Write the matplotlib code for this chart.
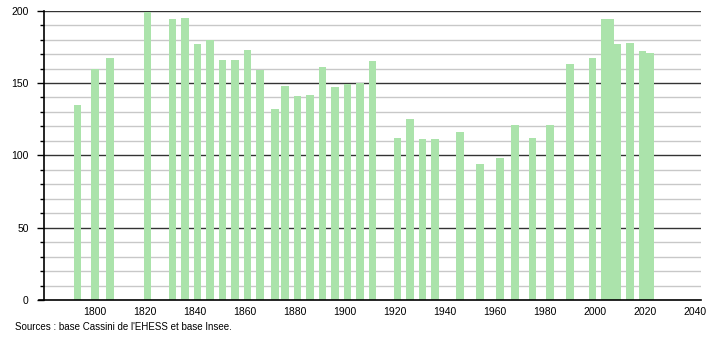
import numpy as np
import matplotlib
matplotlib.use('Agg')
import matplotlib.pyplot as plt
from matplotlib.ticker import MultipleLocator

plt.rcParams['font.family'] = ['Liberation Sans', 'DejaVu Sans']

# census years and population
years = [1793, 1800, 1806, 1821, 1831, 1836, 1841, 1846, 1851, 1856,
         1861, 1866, 1872, 1876, 1881, 1886, 1891, 1896, 1901, 1906,
         1911, 1921, 1926, 1931, 1936, 1946, 1954, 1962, 1968, 1975,
         1982, 1990, 1999, 2004, 2006, 2009, 2014, 2019, 2022]
population = [135, 160, 167, 199, 194, 195, 177, 180, 166, 166,
              173, 159, 132, 148, 141, 142, 161, 147, 149, 150,
              165, 112, 125, 111, 111, 116, 94, 98, 121, 112,
              121, 163, 167, 194, 194, 177, 178, 172, 171]
xticks = list(range(1800, 2041, 20))
source = "Sources : base Cassini de l'EHESS et base Insee."

fig = plt.figure(figsize=(7.1, 3.4), dpi=100)
ax = fig.add_axes([44/710, 40/340, 657/710, 289.3/340])

# grid lines: light every 10, dark every 50
for v in range(10, 200, 10):
    if v % 50:
        ax.axhline(v, color='#c8c8c8', lw=1, zorder=1)
for v in range(50, 201, 50):
    ax.axhline(v, color='#333333', lw=1, zorder=1)

ax.bar(years, population, width=3.1, color='#abe3ab', zorder=2)

ax.set_xlim(1779.6, 2042.4)
ax.set_ylim(0, 200)
ax.set_xticks(xticks)
ax.set_xticklabels([str(x) for x in xticks])
ax.yaxis.set_major_locator(MultipleLocator(50))
ax.yaxis.set_minor_locator(MultipleLocator(10))

for s in ['top', 'right']:
    ax.spines[s].set_visible(False)
ax.spines['left'].set_color('black')
ax.spines['bottom'].set_color('black')
ax.spines['left'].set_linewidth(1.2)
ax.spines['bottom'].set_linewidth(1.2)
ax.spines['bottom'].set_bounds(1777.6, 2042.4)
ax.spines['bottom'].set_zorder(3)

ax.tick_params(axis='x', length=0, pad=5, labelsize=7.5, colors='black')
ax.tick_params(axis='y', which='major', length=5, width=1, pad=6, labelsize=7.5)
ax.tick_params(axis='y', which='minor', length=3, width=1)

fig.text(15/710, 1 - 327/340, source, fontsize=7, va='center', ha='left')

fig.savefig('out.png', dpi=100)
